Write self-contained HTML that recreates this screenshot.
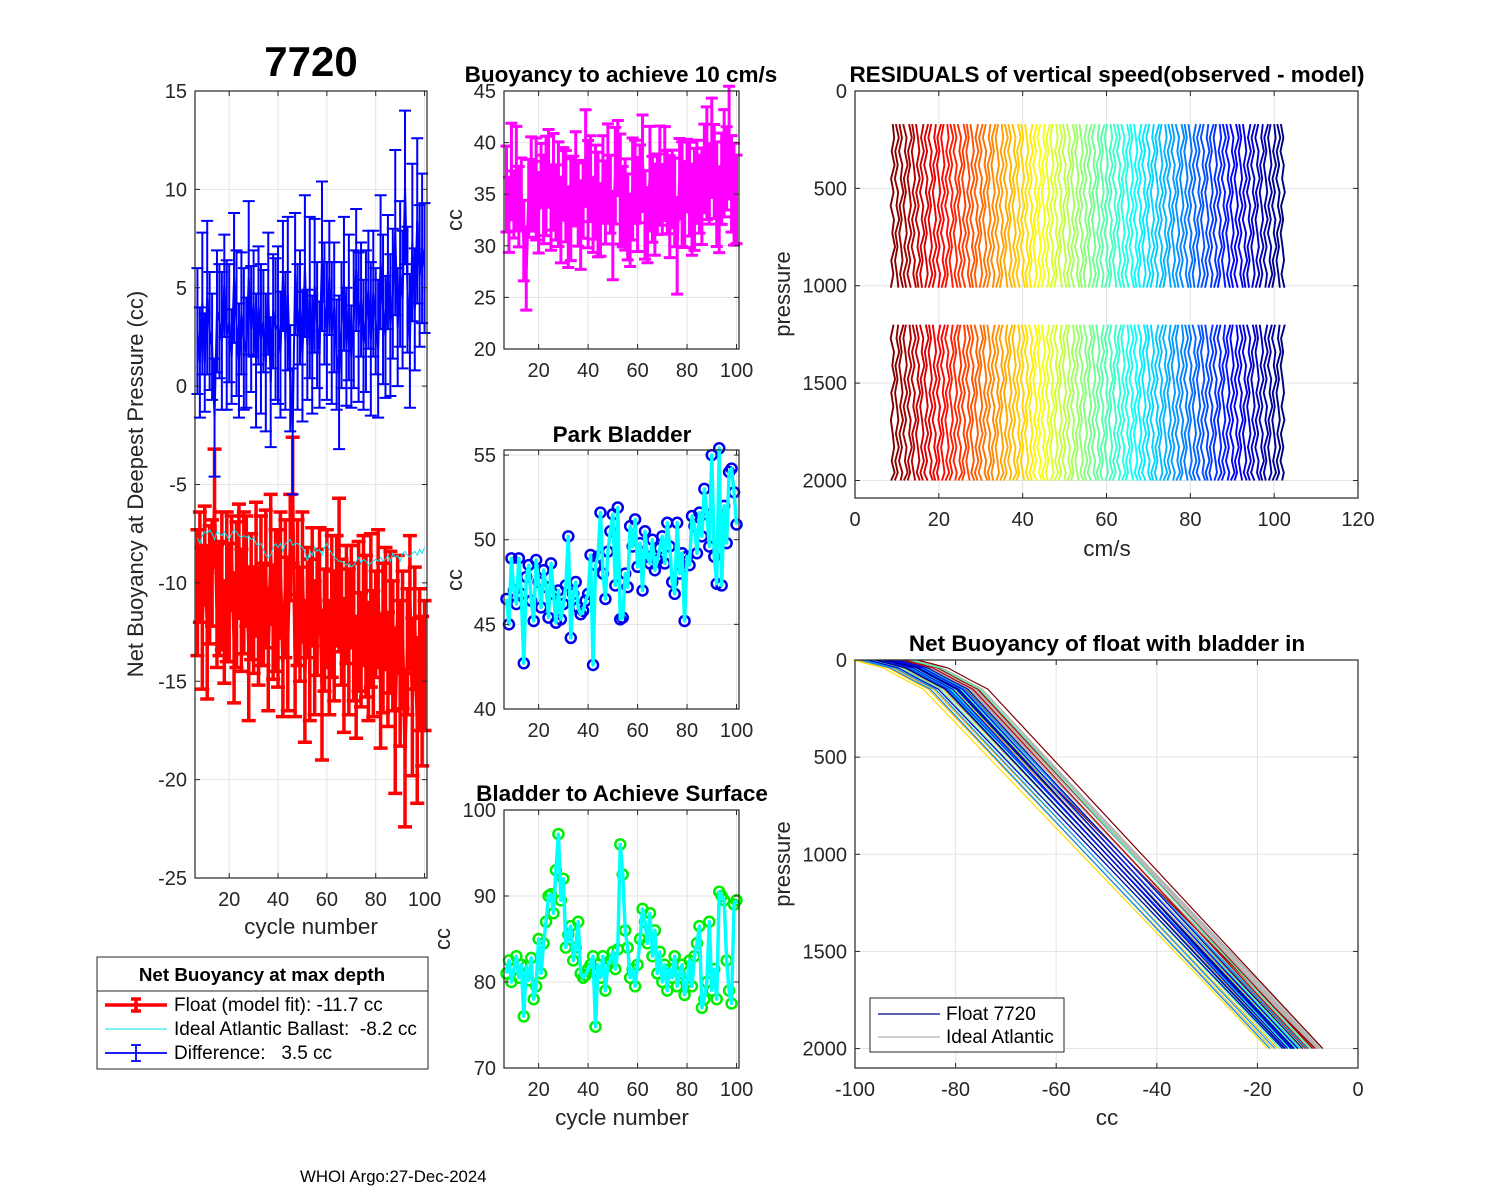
<!DOCTYPE html>
<html><head><meta charset="utf-8"><style>
html,body{margin:0;padding:0;background:#fff;}
svg{display:block;font-family:"Liberation Sans",Arial,sans-serif;}
</style></head><body>
<svg id="fig" width="1500" height="1200" viewBox="0 0 1500 1200" xmlns="http://www.w3.org/2000/svg">
<rect width="1500" height="1200" fill="#fff"/>
</svg>
<script>
const cycles=[7,8,9,10,11,12,13,14,15,16,17,18,19,20,21,22,23,24,25,26,27,28,29,30,31,32,33,34,35,36,37,38,39,40,41,42,43,44,45,46,47,48,49,50,51,52,53,54,55,56,57,58,59,60,61,62,63,64,65,66,67,68,69,70,71,72,73,74,75,76,77,78,79,80,81,82,83,84,85,86,87,88,89,90,91,92,93,94,95,96,97,98,99,100];
const floatV=[-10.5,-9.2,-11.8,-8.6,-12.0,-10.1,-9.5,-6.2,-11.2,-10.8,
-9.9,-12.5,-10.2,-11.0,-9.0,-12.8,-10.6,-8.9,-11.4,-10.0,
-9.4,-13.1,-10.7,-11.9,-9.3,-12.2,-10.4,-11.6,-9.8,-13.4,
-8.8,-12.0,-10.9,-11.3,-9.6,-14.0,-10.3,-12.6,-8.2,-5.8,
-13.7,-10.5,-12.1,-9.7,-14.5,-11.0,-12.9,-10.2,-13.3,-11.5,
-9.9,-15.2,-12.4,-10.8,-13.8,-11.2,-12.7,-10.4,-9.6,-12.0,
-14.2,-11.1,-13.0,-10.7,-12.5,-14.8,-11.7,-13.4,-10.9,-12.2,
-14.0,-11.4,-13.6,-12.1,-10.8,-15.0,-12.8,-11.3,-14.4,-12.0,
-13.2,-16.5,-11.6,-14.6,-12.9,-18.5,-13.5,-11.0,-15.8,-12.3,
-17.0,-13.9,-15.5,-14.2];
const floatErr=[3.2,2.8,3.6,2.5,3.9,3.0,2.7,3.0,3.1,2.9,
3.5,2.6,3.8,3.0,2.4,3.3,3.7,2.9,3.1,3.6,
2.8,3.9,3.2,2.7,3.4,3.0,3.8,2.6,3.5,3.1,
3.3,2.9,3.6,4.0,3.2,2.8,3.5,3.9,2.7,3.2,
3.1,3.7,2.9,3.3,3.6,2.8,4.1,3.0,3.4,3.2,
2.7,3.8,3.1,3.5,2.9,3.6,3.3,2.8,3.9,3.2,
3.4,3.0,3.7,2.6,3.5,3.1,3.8,2.9,3.3,3.6,
3.0,3.9,3.2,2.7,3.5,3.4,3.8,3.1,2.9,3.6,
3.3,4.2,3.0,3.7,3.5,3.9,3.2,3.4,4.0,3.1,
4.2,3.6,3.8,3.3];
const idealV=[-7.7,-8.0,-7.6,-7.4,-7.5,-7.3,-7.5,-7.8,-7.4,-7.5,
-7.6,-7.4,-7.6,-7.8,-7.5,-7.3,-7.4,-7.6,-7.7,-7.6,
-7.7,-7.6,-7.8,-7.7,-8.0,-8.1,-8.0,-8.3,-8.6,-8.7,
-8.6,-8.2,-8.0,-8.2,-8.0,-8.4,-8.0,-7.9,-7.8,-8.1,
-8.0,-8.0,-8.1,-8.2,-8.4,-8.9,-8.4,-8.6,-8.2,-8.4,
-8.3,-8.6,-8.2,-8.0,-8.3,-8.5,-8.7,-8.8,-8.9,-8.9,
-9.0,-9.1,-9.0,-9.2,-9.1,-8.9,-8.7,-9.0,-8.8,-8.9,
-9.1,-9.0,-8.9,-8.8,-8.9,-8.7,-8.9,-8.8,-8.6,-8.9,
-8.5,-8.7,-8.6,-8.9,-8.5,-8.4,-8.6,-8.7,-8.5,-8.4,
-8.6,-8.3,-8.5,-8.2];
const buoy10=[35.5,33.0,37.2,34.0,36.5,33.8,35.0,30.5,27.8,34.6,
36.0,34.8,35.5,33.2,36.8,34.5,35.8,37.5,33.6,36.2,
34.2,35.0,32.5,36.0,34.8,31.8,33.5,35.3,36.5,34.0,
32.0,34.5,38.5,35.0,36.5,33.0,35.2,34.0,32.5,36.5,
34.2,37.0,35.0,31.0,36.8,38.5,35.5,33.8,34.0,32.8,
31.5,35.5,36.2,34.0,36.0,38.0,33.0,32.0,36.5,34.5,
33.5,35.0,36.8,34.5,37.0,35.2,33.8,35.5,34.2,30.0,
36.5,35.0,34.0,36.8,35.5,33.5,34.5,36.2,35.0,34.8,
37.5,38.0,36.0,39.5,37.2,35.0,33.5,36.5,38.0,37.5,
40.0,36.0,35.0,34.5];
const park=[46.5,45.0,48.9,47.0,46.2,48.9,46.8,42.7,47.8,48.5,
46.4,45.2,48.8,47.5,46.0,48.2,47.2,45.4,48.6,46.8,
45.1,47.0,45.3,46.2,47.3,50.2,44.2,46.8,47.5,46.0,
45.6,45.8,46.4,46.8,49.1,42.6,48.5,49.0,51.6,48.0,
46.5,49.3,50.5,51.5,47.3,51.9,45.3,45.4,
48.0,47.2,50.8,49.6,51.2,48.4,49.8,47.0,50.5,49.0,48.6,50.0,
48.2,48.8,49.5,50.2,48.6,51.0,49.6,47.5,46.8,51.0,
48.0,49.2,45.2,49.0,48.5,51.4,50.8,49.2,51.6,50.2,
53.0,51.5,49.6,55.0,49.0,47.4,55.4,47.3,52.0,49.8,
54.0,54.2,52.8,50.9];
const surf=[81.0,82.5,80.0,81.5,83.0,80.5,82.0,76.0,81.8,80.2,
82.8,78.0,79.5,85.0,81.0,84.5,87.0,90.0,90.2,88.0,
93.0,97.2,89.5,92.0,84.0,85.5,86.5,82.5,84.0,87.0,
81.0,80.5,80.8,81.5,82.0,83.0,74.8,82.0,80.5,83.0,
79.0,82.0,82.5,83.5,81.5,83.8,96.0,92.5,86.0,84.0,
80.5,81.5,79.5,82.0,85.0,88.5,87.0,84.5,88.0,83.0,
86.0,81.0,83.5,80.0,82.0,79.0,81.5,80.5,83.0,79.5,
81.0,82.0,78.5,80.0,82.5,79.5,83.0,84.5,86.5,77.0,
78.0,80.0,87.0,79.0,81.5,78.0,90.5,90.0,89.5,82.5,
79.0,77.5,89.0,89.5];
const residWiggle=[0,0.35,-0.25,0.45,-0.4,0.2,-0.5,0.3,-0.1,0.55,-0.35,0.15,-0.45];
const residP1=[170,240,310,380,450,520,590,660,730,800,870,940,1010];
const residP2=[1200,1270,1340,1410,1480,1550,1620,1690,1760,1830,1900,1960,2000];
const colEnd=[-7,-8.5,-9,-10,-10.5,-11,-11.5,-12,-12.5,-13,-13.5,-14,-14.5,-15,-16,-17,-18,-12.2,-11.8,-13.2,-12.8,-14.2,-13.8,-11.2,-10.8,-15.5,-9.5,-12.4,-13.6,-11.6,-14.8,-12.6,-13.4,-10.2,-16.5,-17.5,-12.9,-11.9,-13.1,-14.4,-13.0,-12.0,-14.0,-15.0,-11.0,-13.3,-12.7,-14.6];
const colMid=[-43,-47,-45,-46,-47,-48,-48,-49,-49,-50,-50,-51,-51,-52,-53,-54,-55,-49,-48,-50,-49,-51,-50,-48,-47,-52,-45,-49,-50,-48,-51,-49,-50,-47,-53,-54,-50,-48,-50,-51,-49,-48,-50,-52,-47,-49,-49,-51];
const grayEnd=[-7,-7.5,-8,-8.5,-9,-9.5,-10,-10.5,-11,-11.5,-12,-12.5,-13,-8.2,-9.2,-10.2,-11.2,-12.2,-7.8,-8.8,-9.8,-10.8,-11.8,-12.8,-13.5];
const grayMid=[-44,-44.5,-45,-45,-46,-46,-47,-47,-48,-48,-49,-49,-50,-45,-46,-47,-48,-49,-44,-45,-46,-47,-48,-49,-50];
const ticks1=[15,10,5,0,-5,-10,-15,-20,-25];
const cycTicks=[20,40,60,80,100];

const NS='http://www.w3.org/2000/svg';
const svg=document.getElementById('fig');
function el(tag,attrs,parent,txt){const e=document.createElementNS(NS,tag);for(const k in attrs)e.setAttribute(k,attrs[k]);if(txt!==undefined)e.textContent=txt;(parent||svg).appendChild(e);return e;}
function jet(t){t=Math.max(0,Math.min(1,t));const r=Math.max(0,Math.min(1,1.5-Math.abs(4*t-3))),g=Math.max(0,Math.min(1,1.5-Math.abs(4*t-2))),b=Math.max(0,Math.min(1,1.5-Math.abs(4*t-1)));return 'rgb('+Math.round(r*255)+','+Math.round(g*255)+','+Math.round(b*255)+')';}

function axes(c){
  const sx=v=>c.x0+(v-c.xl[0])/(c.xl[1]-c.xl[0])*(c.x1-c.x0);
  const sy=c.rev?(v=>c.y0+(v-c.yl[0])/(c.yl[1]-c.yl[0])*(c.y1-c.y0)):(v=>c.y1-(v-c.yl[0])/(c.yl[1]-c.yl[0])*(c.y1-c.y0));
  const g=el('g',{});
  
  
  c.xt.forEach(t=>{const x=sx(t);
    const gl=el('line',{x1:x,x2:x,y1:c.y0,y2:c.y1,stroke:'#e3e3e3','stroke-width':1},g);
    });
  c.yt.forEach(t=>{const y=sy(t);
    const gl=el('line',{x1:c.x0,x2:c.x1,y1:y,y2:y,stroke:'#e3e3e3','stroke-width':1},g);
    });
  const plot=el('g',{},svg);
  
  
  c.sx=sx;c.sy=sy;c.g=g;c.plot=plot;return c;
}
function finishAxes(c){
  const g=el('g',{});
  
  
  const b=el('rect',{x:c.x0,y:c.y0,width:c.x1-c.x0,height:c.y1-c.y0,fill:'none',stroke:'#262626','stroke-width':1.2},g);
  
  c.xt.forEach(t=>{const x=c.sx(t);
    el('line',{x1:x,x2:x,y1:c.y1,y2:c.y1-5,stroke:'#262626'},g);
    el('line',{x1:x,x2:x,y1:c.y0,y2:c.y0+5,stroke:'#262626'},g);
    const tx=el('text',{x:x,y:c.y1+28,'font-size':20,'text-anchor':'middle',fill:'#262626'},g,String(t));
    });
  c.yt.forEach(t=>{const y=c.sy(t);
    el('line',{x1:c.x0,x2:c.x0+5,y1:y,y2:y,stroke:'#262626'},g);
    el('line',{x1:c.x1,x2:c.x1-5,y1:y,y2:y,stroke:'#262626'},g);
    const tx=el('text',{x:c.x0-8,y:y+7,'font-size':20,'text-anchor':'end',fill:'#262626'},g,String(t));
    });
}
function txt(x,y,s,size,name,opt){opt=opt||{};const a={x:x,y:y,'font-size':size,'text-anchor':opt.anchor||'middle',fill:opt.fill||'#262626'};
  if(opt.bold)a['font-weight']='bold';if(opt.rot)a.transform='rotate(-90 '+x+' '+y+')';
  const t=el('text',a,svg,s);return t;}
function errbars(c,xs,vs,es,color,lw,cap,name){
  const g=el('g',{},c.plot);
  const pts=xs.map((x,i)=>c.sx(x)+','+c.sy(vs[i])).join(' ');
  xs.forEach((x,i)=>{const px=c.sx(x),lo=c.sy(vs[i]-es[i]),hi=c.sy(vs[i]+es[i]);
    const b=el('path',{d:'M'+px+' '+lo+'V'+hi+'M'+(px-cap)+' '+lo+'H'+(px+cap)+'M'+(px-cap)+' '+hi+'H'+(px+cap),stroke:color,'stroke-width':lw,fill:'none'},g);
    });
  const l=el('polyline',{points:pts,fill:'none',stroke:color,'stroke-width':lw,'stroke-linejoin':'round'},g);
  
}

// ---- Panel 1
const A1=axes({name:'net-buoyancy',x0:195,x1:427,y0:91,y1:878,xl:[6,101],yl:[-25,15],xt:cycTicks,yt:ticks1});
const diffV=idealV.map((v,i)=>v-floatV[i]);
errbars(A1,cycles,floatV,floatErr,'#ff0000',3.5,7,'float-series');
const idl=el('polyline',{points:cycles.map((x,i)=>A1.sx(x)+','+A1.sy(idealV[i])).join(' '),fill:'none',stroke:'#00e5ee','stroke-width':1},A1.plot);

errbars(A1,cycles,diffV,floatErr,'#0000ff',2,6,'difference-series');
finishAxes(A1);
txt(311,76,'7720',42,'figure-title',{bold:true,fill:'#000'});
txt(143,484,'Net Buoyancy at Deepest Pressure (cc)',22,'y-axis-title',{rot:true});
txt(311,934,'cycle number',22.5,'x-axis-title');

// ---- Panel 2
const A2=axes({name:'buoyancy-10cms',x0:504,x1:739,y0:91,y1:349,xl:[6,101],yl:[20,45],xt:cycTicks,yt:[45,40,35,30,25,20]});
errbars(A2,cycles,buoy10,floatErr.map(e=>e*1.3),'#ff00ff',3,6,'buoyancy-series');
finishAxes(A2);
txt(621,82,'Buoyancy to achieve 10 cm/s',22.5,'buoyancy-title',{bold:true,fill:'#000'});
txt(462,220,'cc',22,'buoyancy-y-title',{rot:true});

// ---- Panel 3
function markerLine(c,xs,vs,mc,name){
  const g=el('g',{},c.plot);
  xs.forEach((x,i)=>{const m=el('circle',{cx:c.sx(x),cy:c.sy(vs[i]),r:5,fill:'none',stroke:mc,'stroke-width':2.5},g);
    });
  const l=el('polyline',{points:xs.map((x,i)=>c.sx(x)+','+c.sy(vs[i])).join(' '),fill:'none',stroke:'#00ffff','stroke-width':3.5,'stroke-linejoin':'round'},g);
  
}
const A3=axes({name:'park-bladder',x0:504,x1:739,y0:450,y1:709,xl:[6,101],yl:[40,55.3],xt:cycTicks,yt:[55,50,45,40]});
markerLine(A3,cycles,park,'#0000ee','park-series');
finishAxes(A3);
txt(622,442,'Park Bladder',22.5,'park-title',{bold:true,fill:'#000'});
txt(462,580,'cc',22,'park-y-title',{rot:true});

// ---- Panel 4
const A4=axes({name:'surface-bladder',x0:504,x1:739,y0:810,y1:1068,xl:[6,101],yl:[70,100],xt:cycTicks,yt:[100,90,80,70]});
markerLine(A4,cycles,surf,'#00ee00','surface-series');
finishAxes(A4);
txt(622,801,'Bladder to Achieve Surface',22.5,'surface-title',{bold:true,fill:'#000'});
txt(450,939,'cc',22,'surface-y-title',{rot:true});
txt(622,1125,'cycle number',22.5,'surface-x-title');

// ---- Panel 5
const A5=axes({name:'residuals',x0:855,x1:1358,y0:91,y1:498,xl:[0,120],yl:[0,2090],rev:true,xt:[0,20,40,60,80,100,120],yt:[0,500,1000,1500,2000]});
cycles.forEach((cy,i)=>{
  const col=jet(1-i/(cycles.length-1));
  [residP1,residP2].forEach((ps,s)=>{
    const pts=ps.map((p,k)=>A5.sx(cy+2+residWiggle[(i*2+k+s*5)%residWiggle.length])+','+A5.sy(p)).join(' ');
    const l=el('polyline',{points:pts,fill:'none',stroke:col,'stroke-width':1.9},A5.plot);
    
    
  });
});
finishAxes(A5);
txt(1107,82,'RESIDUALS of vertical speed(observed - model)',22.5,'residuals-title',{bold:true,fill:'#000'});
txt(790,294,'pressure',22,'residuals-y-title',{rot:true});
txt(1107,556,'cm/s',22.5,'residuals-x-title');

// ---- Panel 6
const A6=axes({name:'net-buoyancy-profile',x0:855,x1:1358,y0:660,y1:1068,xl:[-100,0],yl:[0,2100],rev:true,xt:[-100,-80,-60,-40,-20,0],yt:[0,500,1000,1500,2000]});
function profile(c,mid,end,col,w,name){
  const x150=mid-(end-mid)*0.85,x0=x150-14;
  const pts=[[x0,0],[x0+6,40],[x150-3,110],[x150,150],[mid,1000],[end,2000]].map(q=>c.sx(q[0])+','+c.sy(q[1])).join(' ');
  const l=el('polyline',{points:pts,fill:'none',stroke:col,'stroke-width':w},c.plot);
  
  
}
grayEnd.forEach((e,k)=>profile(A6,grayMid[k],e,'#b4b4b4',1.6,'ideal-profile'));
colEnd.forEach((e,k)=>profile(A6,colMid[k],e,jet(1-k/(colEnd.length-1)),1.2,'float-profile'));
finishAxes(A6);
txt(1107,651,'Net Buoyancy of float with bladder in',22.5,'profile-title',{bold:true,fill:'#000'});
txt(790,864,'pressure',22,'profile-y-title',{rot:true});
txt(1107,1125,'cc',22.5,'profile-x-title');

// ---- Legends
(function(){
  const g=el('g',{});
  el('rect',{x:97,y:957,width:331,height:112,fill:'#fff',stroke:'#262626','stroke-width':1},g);
  el('line',{x1:97,x2:428,y1:991,y2:991,stroke:'#262626'},g);
  const t=el('text',{x:262,y:981,'font-size':18.8,'font-weight':'bold','text-anchor':'middle',fill:'#000'},g,'Net Buoyancy at max depth');
  
  el('path',{d:'M105 1005H167M136 999V1011M131 999H141M131 1011H141',stroke:'#ff0000','stroke-width':3.5,fill:'none'},g);
  el('line',{x1:105,x2:167,y1:1029,y2:1029,stroke:'#00e5ee','stroke-width':1},g);
  el('path',{d:'M105 1053H167M136 1045V1061M131 1045H141M131 1061H141',stroke:'#0000ff','stroke-width':1.8,fill:'none'},g);
  [['Float (model fit): -11.7 cc',1011],['Ideal Atlantic Ballast:  -8.2 cc',1035],['Difference:   3.5 cc',1059]].forEach(a=>{
    const e=el('text',{x:174,y:a[1],'font-size':19,fill:'#000',style:'white-space:pre'},g,a[0]);
    });
  const g2=el('g',{});
  el('rect',{x:870,y:998,width:194,height:54,fill:'#fff',stroke:'#262626','stroke-width':1},g2);
  el('line',{x1:878,x2:940,y1:1014,y2:1014,stroke:'#00008b','stroke-width':1.2},g2);
  el('line',{x1:878,x2:940,y1:1037,y2:1037,stroke:'#b4b4b4','stroke-width':1.2},g2);
  [['Float 7720',1020],['Ideal Atlantic',1043]].forEach(a=>{
    const e=el('text',{x:946,y:a[1],'font-size':19,fill:'#000'},g2,a[0]);
    });
})();
txt(300,1182,'WHOI Argo:27-Dec-2024',16.8,'footer-note',{anchor:'start',fill:'#000'});
</script>
</body></html>
